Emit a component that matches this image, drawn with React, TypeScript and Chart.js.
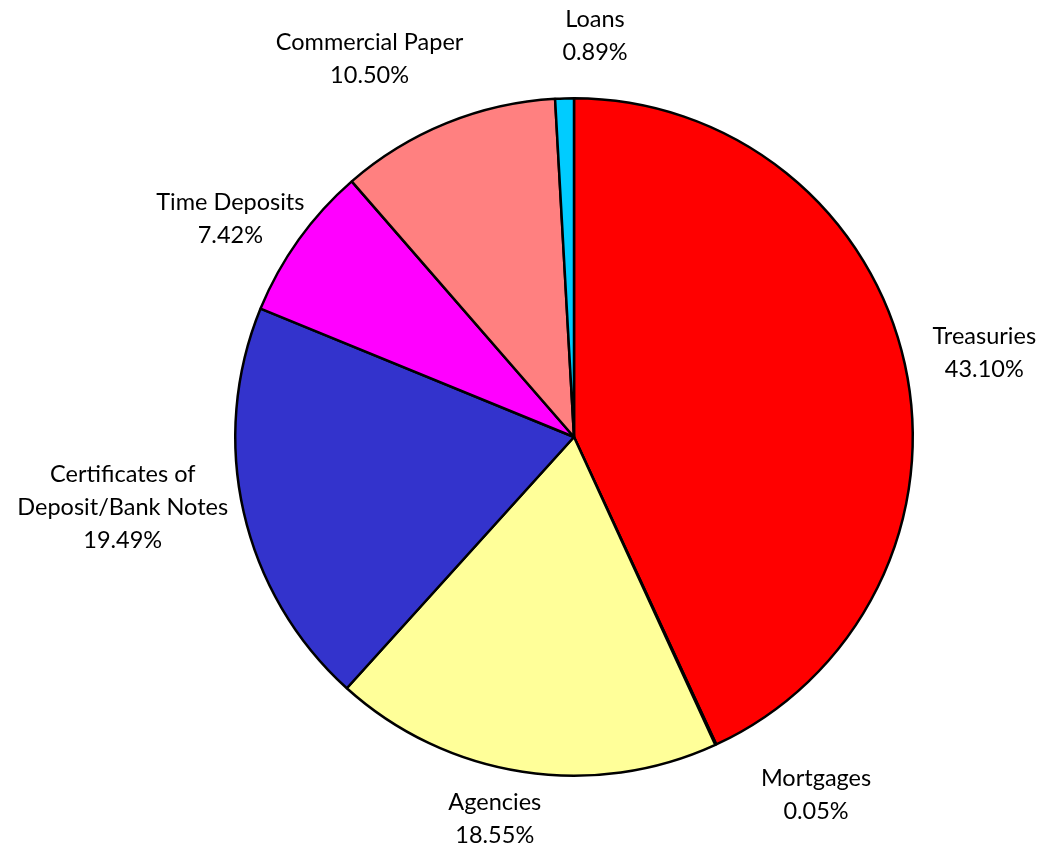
import React, { useEffect, useRef } from "react";
import { Chart, registerables } from "chart.js";

Chart.register(...registerables);

// ---- data ----
const categories = [
  "Treasuries",
  "Mortgages",
  "Agencies",
  "Certificates of\nDeposit/Bank Notes",
  "Time Deposits",
  "Commercial Paper",
  "Loans",
];
const shares = [43.1, 0.05, 18.55, 19.49, 7.42, 10.5, 0.89];
const shareLabels = ["43.10%", "0.05%", "18.55%", "19.49%", "7.42%", "10.50%", "0.89%"];

// ---- styling ----
const sliceColors = ["#FF0000", "#000080", "#FFFF99", "#3333CC", "#FF00FF", "#FF8080", "#00CCFF"];
// label placement relative to slice middle: [angle shift in degrees, distance beyond outer edge in px]
const labelPlacement: [number, number][] = [
  [0.9, 80],
  [-9.35, 93],
  [3.0, 51],
  [3.9, 118],
  [-3.3, 68],
  [-6.3, 91],
  [4.6, 63],
];
const FONT = '23.5px Lato, "Open Sans", sans-serif';
const LINE_H = 33;

const outsideLabels = {
  id: "outsideLabels",
  afterDatasetsDraw(chart: any) {
    const ctx = chart.ctx as CanvasRenderingContext2D;
    const meta = chart.getDatasetMeta(0);
    ctx.save();
    ctx.font = FONT;
    ctx.fillStyle = "#000000";
    ctx.textAlign = "center";
    ctx.textBaseline = "middle";
    meta.data.forEach((arc: any, i: number) => {
      const { x, y, startAngle, endAngle, outerRadius } = arc.getProps(
        ["x", "y", "startAngle", "endAngle", "outerRadius"],
        true
      );
      const [dA, dR] = labelPlacement[i];
      const mid = (startAngle + endAngle) / 2 + (dA * Math.PI) / 180;
      const d = outerRadius + dR;
      const cx = x + Math.cos(mid) * d;
      const cy = y + Math.sin(mid) * d;
      const lines = [...String(categories[i]).split("\n"), shareLabels[i]];
      const top = cy - ((lines.length - 1) * LINE_H) / 2;
      lines.forEach((ln, k) => ctx.fillText(ln, cx, top + k * LINE_H));
    });
    ctx.restore();
  },
};

export default function App() {
  const ref = useRef<HTMLCanvasElement | null>(null);
  useEffect(() => {
    if (!ref.current) return;
    const chart = new Chart(ref.current, {
      type: "pie",
      data: {
        labels: categories,
        datasets: [
          {
            data: shares,
            backgroundColor: sliceColors,
            borderColor: "#000000",
            borderWidth: 2.5,
          },
        ],
      },
      options: {
        responsive: false,
        animation: false,
        layout: { padding: { left: 234, right: 136, top: 97, bottom: 78 } },
        plugins: {
          legend: { display: false },
          tooltip: { enabled: false },
        },
      },
      plugins: [outsideLabels],
    });
    return () => chart.destroy();
  }, []);
  return (
    <div style={{ position: "fixed", left: 0, top: 0, width: 1050, height: 855, background: "#fff" }}>
      <canvas ref={ref} width={1050} height={855} />
    </div>
  );
}
